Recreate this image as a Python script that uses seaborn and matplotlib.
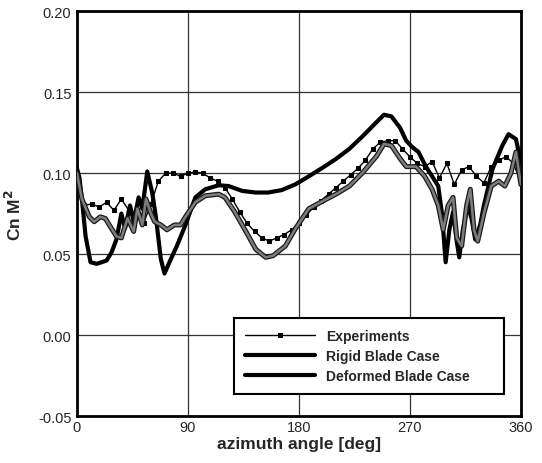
import matplotlib
matplotlib.use("Agg")
import matplotlib.pyplot as plt
import matplotlib.patheffects as pe
import numpy as np
import pandas as pd
import seaborn as sns

# experiments (squares)
exp_deg = [0, 6, 12, 18, 24, 30, 36, 42, 48, 54, 60, 66, 72, 78, 84, 90, 96, 102, 108, 114,
           120, 126, 132, 138, 144, 150, 156, 162, 168, 174, 180, 186, 192, 198, 204, 210,
           216, 222, 228, 234, 240, 246, 252, 258, 264, 270, 276, 282, 288, 294, 300, 306,
           312, 318, 324, 330, 336, 342, 348, 354, 360]
exp_cn = [0.093, 0.080, 0.081, 0.079, 0.082, 0.077, 0.084, 0.077, 0.074, 0.069, 0.081, 0.095,
          0.100, 0.100, 0.098, 0.100, 0.1006, 0.100, 0.097, 0.095, 0.091, 0.084, 0.076, 0.069,
          0.064, 0.060, 0.058, 0.060, 0.062, 0.065, 0.069, 0.074, 0.079, 0.083, 0.087, 0.091,
          0.095, 0.099, 0.103, 0.108, 0.115, 0.119, 0.120, 0.120, 0.115, 0.110, 0.106, 0.104,
          0.107, 0.097, 0.106, 0.093, 0.102, 0.104, 0.098, 0.094, 0.104, 0.108, 0.110, 0.106,
          0.094]

# rigid blade (thick black)
rigid_deg = [0, 2, 4, 7, 11, 16, 24, 28, 32, 36, 39, 43, 46, 50, 53, 57, 61, 64, 68, 71,
             75, 81, 88, 96, 104, 115, 123, 134, 145, 155, 166, 177, 188, 200, 210, 221, 232,
             243, 249, 255, 262, 267, 272, 277, 283, 288, 293, 296, 299, 302, 305, 308, 310,
             313, 317, 320, 323, 327, 330, 337, 345, 350, 356, 360]
rigid_cn = [0.103, 0.097, 0.084, 0.061, 0.045, 0.044, 0.046, 0.051, 0.059, 0.075, 0.066, 0.080,
            0.070, 0.085, 0.078, 0.101, 0.088, 0.073, 0.047, 0.038, 0.045, 0.055, 0.068, 0.085,
            0.090, 0.0925, 0.092, 0.089, 0.088, 0.088, 0.0895, 0.093, 0.098, 0.1037, 0.1087,
            0.115, 0.123, 0.1315, 0.136, 0.135, 0.128, 0.120, 0.116, 0.113, 0.104, 0.098, 0.092,
            0.075, 0.045, 0.065, 0.076, 0.058, 0.048, 0.065, 0.080, 0.072, 0.059, 0.068, 0.080,
            0.1025, 0.117, 0.124, 0.121, 0.107]

# deformed blade (gray, dark outline)
def_deg = [0, 4, 10, 14, 19, 23, 27, 32, 36, 41, 46, 49, 53, 56, 60, 63, 68, 73, 79, 84,
           88, 96, 104, 115, 120, 128, 137, 145, 153, 159, 169, 177, 188, 200, 210, 221, 232,
           243, 249, 255, 262, 267, 271, 275, 282, 288, 293, 297, 301, 305, 308, 312, 316,
           319, 322, 325, 330, 336, 342, 347, 352, 356, 360]
def_cn = [0.100, 0.084, 0.073, 0.070, 0.073, 0.072, 0.067, 0.061, 0.060, 0.072, 0.064, 0.078,
          0.068, 0.084, 0.075, 0.070, 0.068, 0.065, 0.068, 0.068, 0.073, 0.082, 0.086, 0.087,
          0.085, 0.076, 0.064, 0.053, 0.048, 0.049, 0.055, 0.0655, 0.078, 0.083, 0.087, 0.092,
          0.1005, 0.1105, 0.118, 0.117, 0.109, 0.104, 0.104, 0.104, 0.098, 0.090, 0.080, 0.065,
          0.080, 0.085, 0.060, 0.055, 0.080, 0.090, 0.065, 0.058, 0.075, 0.092, 0.095, 0.092,
          0.100, 0.113, 0.093]

sns.set_style("white")
plt.rcParams["font.family"] = ["Liberation Sans", "DejaVu Sans"]

fig = plt.figure(figsize=(5.42, 4.64), dpi=100)
ax = fig.add_axes([0.142, 0.101, 0.819, 0.873])

exp_df = pd.DataFrame({"deg": exp_deg, "cn": exp_cn})
rigid_df = pd.DataFrame({"deg": rigid_deg, "cn": rigid_cn})
def_df = pd.DataFrame({"deg": def_deg, "cn": def_cn})

sns.lineplot(data=exp_df, x="deg", y="cn", color="black", lw=1.0, marker="s", ms=3.5,
             mec="black", sort=False, ax=ax, label="Experiments", zorder=3)
sns.lineplot(data=rigid_df, x="deg", y="cn", color="black", lw=3.0, sort=False, ax=ax,
             label="Rigid Blade Case", zorder=4)
sns.lineplot(data=def_df, x="deg", y="cn", color="#7d7d7d", lw=1.8, sort=False, ax=ax,
             label="Deformed Blade Case", zorder=5,
             path_effects=[pe.Stroke(linewidth=3.6, foreground="#1a1a1a"), pe.Normal()])

ax.set_xlim(0, 360)
ax.set_ylim(-0.05, 0.20)
ax.set_xticks([0, 90, 180, 270, 360])
ax.set_yticks([-0.05, 0.00, 0.05, 0.10, 0.15, 0.20])
ax.set_yticklabels(["-0.05", "0.00", "0.05", "0.10", "0.15", "0.20"])
ax.set_xticks(np.arange(0, 361, 18), minor=True)
ax.set_yticks(np.arange(-0.05, 0.2001, 0.01), minor=True)
ax.grid(True, which="major", color="#333333", lw=0.9)
ax.tick_params(which="both", direction="in", labelsize=10.5, color="black")
ax.tick_params(which="major", length=0)
ax.tick_params(which="minor", length=5, width=1.2)
ax.tick_params(axis="x", pad=3)
ax.tick_params(axis="y", pad=4)
for s in ax.spines.values():
    s.set_linewidth(2.0)
    s.set_color("black")

ax.set_xlabel("azimuth angle [deg]", fontsize=12.5, fontweight="bold", labelpad=1)
ax.set_ylabel(r"Cn M$^\mathbf{2}$", fontsize=12.5, fontweight="bold", labelpad=10)

leg = ax.legend(loc="lower left", bbox_to_anchor=(0.354, 0.055, 0.608, 0.19), mode="expand",
                frameon=True, fancybox=False, edgecolor="black", framealpha=1,
                prop={"weight": "bold", "size": 10}, handlelength=5.0, labelspacing=0.42,
                borderpad=0.8, handletextpad=0.8, borderaxespad=0)
leg.get_frame().set_linewidth(1.5)
for h in leg.legend_handles:
    h.set_path_effects([])
    h.set_color("black")
leg.legend_handles[2].set_linewidth(3.0)
leg.set_zorder(10)

fig.savefig("out.png", dpi=100)
